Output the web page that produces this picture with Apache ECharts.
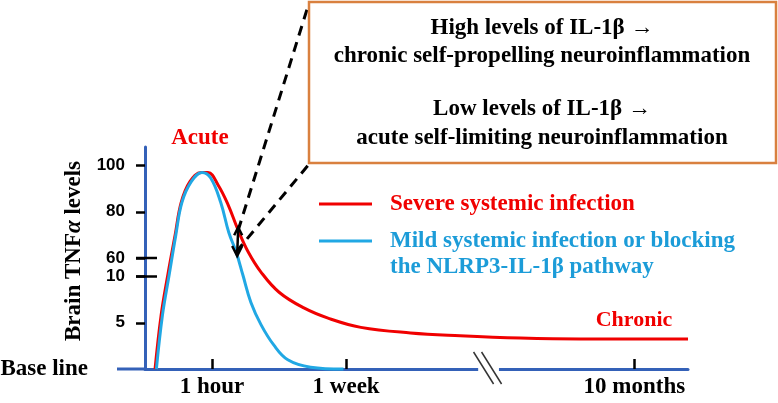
<!DOCTYPE html>
<html>
<head>
<meta charset="utf-8">
<script src="https://cdn.jsdelivr.net/npm/echarts@6/dist/echarts.min.js"></script>
<style>
html,body{margin:0;padding:0;background:#fff;}
#main{width:778px;height:403px;}
</style>
</head>
<body>
<div id="main"></div>
<script>
(function(){
  // schematic time scale: 1 hour = 10, 1 week = 30, 10 months = 73
  var timeTicks = [10, 30, 73];
  var timeLabels = ['1 hour', '1 week', '10 months'];
  var timeBreak = [49.7, 52.8];

  var levelTicks = [5, 10, 60, 80, 100];
  var levelBreak = [10, 60];

  var severeTime  = [1.5, 2.4, 3.4, 4.5, 5.4, 6.7, 8.4, 9.4, 10.9, 12.4, 13.9, 15.4, 17.3, 20.0, 23.7, 27.3, 32.2, 39.6, 47.0, 56.0, 64.9, 81];
  var severeLevel = [0, 5.8, 14, 70, 84, 93, 97, 97, 91.6, 83, 72, 62.6, 22, 8.3, 6.6, 5.5, 4.5, 3.9, 3.6, 3.35, 3.25, 3.25];
  var mildTime  = [1.7, 2.6, 3.6, 4.6, 5.5, 6.9, 8.5, 9.8, 11.3, 12.5, 13.6, 14.6, 15.8, 17.3, 19.2, 21.3, 24.7, 29.6];
  var mildLevel = [0, 5.8, 14, 70, 84, 93, 97, 94.6, 84, 71, 62.6, 14, 7.2, 4.8, 2.6, 1.0, 0.2, 0];

  var blue = '#3461b8', red = '#f00000', sky = '#21a8e4', skyText = '#1c9cd8', orange = '#d9803f';
  var serif = "'Times New Roman','Liberation Serif',serif";
  var sans = "Arial,'Liberation Sans',sans-serif";

  // broken y axis: 0-10 linear, gap, then 60-100 compressed
  function toAxis(v){
    if (v <= 10) return v;
    if (v >= 60) return 12 + (v - 60) * 0.25;
    return 10 + (v - 10) * 2 / 50;
  }
  function fromAxis(d){
    if (d <= 10) return d;
    return 60 + (d - 12) * 4;
  }
  function pairs(xs, ys){
    return xs.map(function(x, i){ return [x, toAxis(ys[i])]; });
  }

  var chart = echarts.init(document.getElementById('main'));
  var yTicks = levelTicks.map(toAxis);

  var option = {
    animation: false,
    grid: {left: 145, right: 90, top: 147, bottom: 34, outerBoundsMode: 'none', containLabel: false},
    xAxis: {
      type: 'value', min: 0, max: 81,
      axisLine: {lineStyle: {color: blue, width: 3}},
      axisTick: {show: true, inside: true, length: 10, customValues: timeTicks, lineStyle: {color: '#000', width: 2.5}},
      axisLabel: {
        customValues: timeTicks, margin: 7,
        formatter: function(v){ return timeLabels[timeTicks.indexOf(v)]; },
        color: '#000', fontFamily: serif, fontWeight: 'bold', fontSize: 23
      },
      splitLine: {show: false}
    },
    yAxis: {
      type: 'value', min: 0, max: 24,
      name: 'Brain TNF{a|α} levels', nameLocation: 'middle', nameRotate: 90, nameGap: 59, nameMoveOverlap: false,
      nameTextStyle: {
        color: '#000', fontFamily: serif, fontWeight: 'bold', fontSize: 23, padding: [0, 0, 0, 14],
        rich: {a: {color: '#000', fontFamily: serif, fontWeight: 'bold', fontStyle: 'italic', fontSize: 23}}
      },
      axisLine: {show: true, lineStyle: {color: blue, width: 3}},
      axisTick: {show: true, length: 9, customValues: yTicks, lineStyle: {color: '#000', width: 2.5}},
      axisLabel: {
        customValues: yTicks, margin: 20,
        formatter: function(v){ return String(Math.round(fromAxis(v))); },
        color: '#000', fontFamily: sans, fontWeight: 'bold', fontSize: 17
      },
      splitLine: {show: false}
    },
    series: [
      {
        name: 'Severe systemic infection', type: 'line', data: pairs(severeTime, severeLevel),
        smooth: 0.4, showSymbol: false, clip: false, z: 3,
        lineStyle: {color: red, width: 3}
      },
      {
        name: 'Mild systemic infection or blocking the NLRP3-IL-1β pathway', type: 'line', data: pairs(mildTime, mildLevel),
        smooth: 0.4, showSymbol: false, clip: false, z: 4,
        lineStyle: {color: sky, width: 3}
      },
      {
        // axis decorations: base line stub, axis breaks, "Base line" label
        type: 'custom', silent: true, clip: false, z: 6, data: [[0, 0]],
        renderItem: function(params, api){
          var kids = [];
          var o = api.coord([0, 0]);
          kids.push({type: 'line', shape: {x1: o[0] - 28, y1: o[1], x2: o[0], y2: o[1]}, style: {stroke: blue, lineWidth: 3}});
          kids.push({type: 'text', x: o[0] - 57, y: o[1], style: {text: 'Base line', fill: '#000', font: 'bold 23px ' + serif, textAlign: 'right', textVerticalAlign: 'middle'}});
          levelBreak.forEach(function(v){
            var p = api.coord([0, toAxis(v)]);
            kids.push({type: 'line', shape: {x1: p[0] - 9, y1: p[1], x2: p[0] + 12, y2: p[1]}, style: {stroke: '#000', lineWidth: 2.5}});
          });
          var a = api.coord([timeBreak[0], 0]), b = api.coord([timeBreak[1], 0]);
          var cx = (a[0] + b[0]) / 2, cy = a[1];
          kids.push({type: 'rect', shape: {x: a[0], y: cy - 3, width: b[0] - a[0], height: 6}, style: {fill: '#fff'}});
          [-5, 3].forEach(function(dx){
            kids.push({type: 'line', shape: {x1: cx + dx - 10, y1: cy - 17, x2: cx + dx + 10, y2: cy + 15}, style: {stroke: '#333', lineWidth: 1.5}});
          });
          return {type: 'group', children: kids};
        }
      }
    ]
  };
  chart.setOption(option);

  var ra = chart.convertToPixel({gridIndex: 0}, [severeTime[10], toAxis(severeLevel[10])]);
  var ba = chart.convertToPixel({gridIndex: 0}, [mildTime[10], toAxis(mildLevel[10])]);
  var boxText = {fill: '#000', font: 'bold 23px ' + serif, textAlign: 'center', textVerticalAlign: 'middle'};
  function txt(s, x, y, extra){
    var st = Object.assign({}, boxText, {text: s}, extra || {});
    return {type: 'text', x: x, y: y, style: st, z: 10};
  }
  var dash = {stroke: '#000', lineWidth: 3, lineDash: [10, 7]};
  var legendFont = 'bold 23px ' + serif;

  chart.setOption({
    graphic: [
      {type: 'line', shape: {x1: ra[0], y1: ra[1], x2: 309, y2: 3}, style: dash, z: 8},
      {type: 'line', shape: {x1: ba[0], y1: ba[1], x2: 310, y2: 163}, style: dash, z: 8},
      {type: 'polyline', shape: {points: [[ra[0], ra[1] - 2], [ba[0] + 1, ba[1] + 3]]}, style: {stroke: '#000', lineWidth: 2.5}, z: 8},
      {type: 'polyline', shape: {points: [[ba[0] - 4, ba[1] - 6], [ba[0] + 1, ba[1] + 4], [ba[0] + 6, ba[1] - 6]]}, style: {stroke: '#000', lineWidth: 2.5, fill: null}, z: 8},
      {type: 'polyline', shape: {points: [[ra[0] - 4, ra[1] + 5], [ra[0], ra[1] - 3], [ra[0] + 4, ra[1] + 5]]}, style: {stroke: '#000', lineWidth: 2.5, fill: null}, z: 8},
      {type: 'rect', shape: {x: 309, y: 2, width: 467, height: 161}, style: {fill: '#fff', stroke: orange, lineWidth: 2.5}, z: 9},
      txt('High levels of IL-1β \u2192', 542, 28),
      txt('chronic self-propelling neuroinflammation', 542, 56),
      txt('Low levels of IL-1β \u2192', 542, 109),
      txt('acute self-limiting neuroinflammation', 542, 138),
      txt('Acute', 200, 138, {fill: red}),
      txt('Chronic', 634, 320, {fill: red, font: 'bold 22px ' + serif}),
      {type: 'line', shape: {x1: 319, y1: 204, x2: 372, y2: 204}, style: {stroke: red, lineWidth: 3}, z: 10},
      txt('Severe systemic infection', 390, 204, {fill: red, textAlign: 'left', font: legendFont}),
      {type: 'line', shape: {x1: 319, y1: 241, x2: 372, y2: 241}, style: {stroke: sky, lineWidth: 3}, z: 10},
      txt('Mild systemic infection or blocking', 390, 241, {fill: skyText, textAlign: 'left', font: legendFont}),
      txt('the NLRP3-IL-1β pathway', 390, 267, {fill: skyText, textAlign: 'left', font: legendFont})
    ]
  });
})();
</script>
</body>
</html>
